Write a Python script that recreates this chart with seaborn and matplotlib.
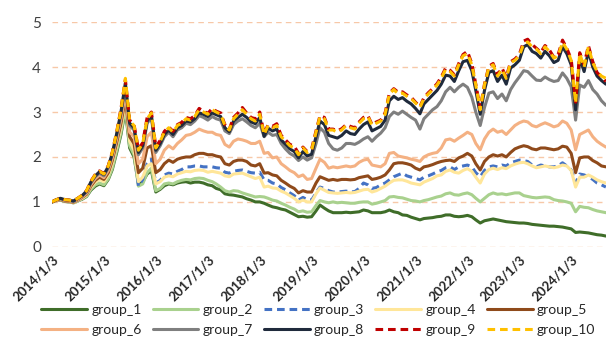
import numpy as np
import pandas as pd
import matplotlib
matplotlib.use('Agg')
import matplotlib.pyplot as plt
import seaborn as sns

# monthly readings, 2014/1 .. 2024/9
dates = pd.date_range('2014-01-01', '2024-09-01', freq='MS')

group_1 = [1.00, 1.03, 1.04, 1.01, 1.00, 0.98, 1.02, 1.06, 1.12, 1.26, 1.35, 1.40,
           1.36, 1.50, 1.72, 2.10, 2.50, 3.05, 2.20, 2.00, 1.40, 1.45, 1.62, 1.70,
           1.22, 1.28, 1.36, 1.40, 1.38, 1.42, 1.44, 1.45, 1.42, 1.44, 1.44, 1.42,
           1.38, 1.36, 1.30, 1.27, 1.18, 1.16, 1.15, 1.13, 1.11, 1.07, 1.04, 1.00,
           1.00, 0.97, 0.93, 0.89, 0.87, 0.84, 0.82, 0.77, 0.72, 0.67, 0.68, 0.66,
           0.67, 0.80, 0.93, 0.86, 0.80, 0.76, 0.76, 0.76, 0.77, 0.76, 0.77, 0.78,
           0.82, 0.80, 0.76, 0.76, 0.76, 0.78, 0.82, 0.78, 0.76, 0.71, 0.70, 0.66,
           0.63, 0.60, 0.63, 0.64, 0.65, 0.67, 0.68, 0.71, 0.71, 0.68, 0.67, 0.68,
           0.70, 0.67, 0.60, 0.53, 0.58, 0.60, 0.62, 0.60, 0.58, 0.56, 0.55, 0.54,
           0.53, 0.53, 0.52, 0.50, 0.49, 0.48, 0.47, 0.46, 0.46, 0.45, 0.44, 0.42,
           0.40, 0.32, 0.33, 0.32, 0.31, 0.29, 0.27, 0.26, 0.24]

group_2 = [1.00, 1.03, 1.04, 1.01, 1.00, 0.98, 1.02, 1.07, 1.13, 1.28, 1.38, 1.42,
           1.38, 1.52, 1.75, 2.15, 2.55, 3.10, 2.25, 2.05, 1.35, 1.40, 1.65, 1.75,
           1.25, 1.30, 1.40, 1.42, 1.40, 1.45, 1.48, 1.50, 1.49, 1.52, 1.53, 1.52,
           1.48, 1.45, 1.40, 1.33, 1.25, 1.22, 1.25, 1.24, 1.20, 1.17, 1.14, 1.11,
           1.12, 1.11, 1.08, 1.04, 1.02, 0.97, 0.93, 0.88, 0.84, 0.78, 0.80, 0.77,
           0.78, 0.92, 1.03, 1.00, 0.98, 1.00, 0.98, 0.99, 0.98, 0.97, 0.97, 0.99,
           1.00, 1.00, 0.95, 0.97, 1.00, 1.03, 1.11, 1.12, 1.10, 1.09, 1.06, 1.03,
           1.02, 1.00, 1.03, 1.05, 1.08, 1.11, 1.13, 1.18, 1.20, 1.16, 1.15, 1.18,
           1.20, 1.16, 1.08, 1.00, 1.08, 1.16, 1.20, 1.17, 1.18, 1.16, 1.18, 1.20,
           1.20, 1.14, 1.12, 1.10, 1.09, 1.10, 1.11, 1.10, 1.05, 1.03, 1.02, 1.00,
           0.97, 0.78, 0.90, 0.88, 0.87, 0.83, 0.80, 0.78, 0.76]

group_3 = [1.00, 1.03, 1.05, 1.02, 1.00, 0.99, 1.03, 1.09, 1.16, 1.33, 1.45, 1.52,
           1.47, 1.62, 1.88, 2.28, 2.70, 3.25, 2.40, 2.20, 1.35, 1.50, 1.85, 1.95,
           1.42, 1.48, 1.60, 1.64, 1.62, 1.68, 1.72, 1.78, 1.78, 1.80, 1.80, 1.78,
           1.78, 1.78, 1.76, 1.75, 1.66, 1.64, 1.68, 1.70, 1.71, 1.68, 1.65, 1.64,
           1.66, 1.49, 1.48, 1.42, 1.40, 1.32, 1.27, 1.20, 1.14, 1.04, 1.10, 1.05,
           1.04, 1.20, 1.33, 1.30, 1.25, 1.22, 1.22, 1.23, 1.24, 1.22, 1.23, 1.30,
           1.42, 1.38, 1.30, 1.32, 1.38, 1.42, 1.49, 1.56, 1.60, 1.64, 1.58, 1.55,
           1.52, 1.49, 1.55, 1.58, 1.62, 1.67, 1.70, 1.76, 1.78, 1.72, 1.78, 1.80,
           1.82, 1.78, 1.65, 1.56, 1.70, 1.78, 1.80, 1.78, 1.82, 1.80, 1.87, 1.90,
           1.93, 1.92, 1.90, 1.82, 1.78, 1.82, 1.80, 1.78, 1.78, 1.80, 1.87, 1.80,
           1.71, 1.42, 1.62, 1.60, 1.56, 1.50, 1.42, 1.38, 1.33]

group_4 = [1.00, 1.03, 1.05, 1.02, 1.00, 0.98, 1.03, 1.08, 1.15, 1.32, 1.44, 1.50,
           1.45, 1.60, 1.85, 2.25, 2.65, 3.20, 2.35, 2.15, 1.45, 1.55, 1.80, 1.85,
           1.40, 1.45, 1.55, 1.58, 1.56, 1.62, 1.65, 1.68, 1.67, 1.70, 1.71, 1.70,
           1.66, 1.68, 1.66, 1.64, 1.58, 1.56, 1.62, 1.63, 1.64, 1.60, 1.56, 1.52,
           1.55, 1.33, 1.35, 1.31, 1.30, 1.24, 1.20, 1.14, 1.08, 1.00, 1.04, 1.00,
           1.00, 1.18, 1.31, 1.26, 1.21, 1.20, 1.19, 1.20, 1.21, 1.20, 1.21, 1.24,
           1.27, 1.28, 1.22, 1.25, 1.30, 1.35, 1.42, 1.48, 1.49, 1.49, 1.46, 1.42,
           1.40, 1.38, 1.44, 1.48, 1.52, 1.58, 1.60, 1.68, 1.71, 1.66, 1.64, 1.70,
           1.74, 1.68, 1.55, 1.42, 1.62, 1.72, 1.75, 1.72, 1.76, 1.74, 1.80, 1.84,
           1.87, 1.88, 1.85, 1.80, 1.76, 1.78, 1.80, 1.78, 1.76, 1.78, 1.82, 1.80,
           1.70, 1.33, 1.55, 1.55, 1.60, 1.55, 1.49, 1.45, 1.42]

group_5 = [1.00, 1.04, 1.05, 1.02, 1.01, 0.99, 1.04, 1.10, 1.17, 1.35, 1.48, 1.55,
           1.50, 1.65, 1.92, 2.32, 2.75, 3.30, 2.45, 2.30, 1.65, 1.75, 2.20, 2.25,
           1.65, 1.72, 1.85, 1.93, 1.88, 1.95, 1.98, 2.00, 2.00, 2.05, 2.08, 2.08,
           2.05, 2.05, 2.02, 2.00, 1.85, 1.82, 1.90, 1.93, 1.93, 1.90, 1.82, 1.80,
           1.85, 1.64, 1.65, 1.60, 1.58, 1.48, 1.42, 1.35, 1.30, 1.20, 1.25, 1.22,
           1.22, 1.42, 1.56, 1.52, 1.48, 1.50, 1.48, 1.50, 1.50, 1.49, 1.50, 1.54,
           1.56, 1.58, 1.50, 1.52, 1.55, 1.60, 1.71, 1.85, 1.87, 1.87, 1.85, 1.82,
           1.75, 1.71, 1.78, 1.80, 1.83, 1.87, 1.90, 1.92, 1.93, 1.90, 1.98, 2.02,
           2.08, 2.02, 1.85, 1.71, 1.90, 2.00, 2.05, 2.02, 2.05, 2.00, 2.10, 2.18,
           2.22, 2.25, 2.23, 2.18, 2.16, 2.20, 2.20, 2.18, 2.16, 2.18, 2.24, 2.22,
           2.08, 1.65, 1.98, 2.00, 2.00, 1.92, 1.87, 1.80, 1.78]

group_6 = [1.00, 1.04, 1.06, 1.03, 1.02, 1.00, 1.05, 1.11, 1.19, 1.38, 1.52, 1.60,
           1.54, 1.70, 1.98, 2.40, 2.85, 3.40, 2.55, 2.45, 1.85, 1.95, 2.45, 2.55,
           1.85, 1.95, 2.15, 2.25, 2.18, 2.30, 2.38, 2.48, 2.50, 2.55, 2.62, 2.58,
           2.55, 2.55, 2.50, 2.48, 2.28, 2.22, 2.35, 2.40, 2.38, 2.35, 2.30, 2.30,
           2.35, 2.08, 2.10, 1.98, 2.00, 1.85, 1.78, 1.70, 1.65, 1.56, 1.60, 1.50,
           1.52, 1.75, 1.95, 1.88, 1.75, 1.78, 1.76, 1.78, 1.80, 1.78, 1.80, 1.88,
           1.93, 1.95, 1.82, 1.80, 1.78, 1.85, 2.08, 2.10, 2.02, 2.00, 1.98, 1.95,
           1.93, 1.90, 2.00, 2.05, 2.08, 2.10, 2.20, 2.38, 2.40, 2.35, 2.42, 2.48,
           2.55, 2.50, 2.30, 2.16, 2.40, 2.55, 2.62, 2.55, 2.58, 2.50, 2.60, 2.70,
           2.76, 2.80, 2.78, 2.70, 2.67, 2.72, 2.76, 2.72, 2.67, 2.70, 2.80, 2.75,
           2.60, 2.16, 2.50, 2.55, 2.60, 2.45, 2.35, 2.28, 2.22]

group_7 = [1.00, 1.05, 1.07, 1.04, 1.03, 1.01, 1.07, 1.13, 1.22, 1.42, 1.56, 1.64,
           1.58, 1.76, 2.05, 2.48, 2.95, 3.55, 2.70, 2.60, 2.05, 2.20, 2.75, 2.88,
           2.10, 2.25, 2.45, 2.55, 2.45, 2.60, 2.65, 2.75, 2.72, 2.80, 2.92, 2.88,
           2.82, 2.90, 2.85, 2.82, 2.58, 2.52, 2.72, 2.80, 2.85, 2.78, 2.70, 2.65,
           2.75, 2.45, 2.55, 2.48, 2.50, 2.30, 2.18, 2.08, 2.02, 1.92, 2.00, 1.93,
           1.98, 2.30, 2.65, 2.55, 2.30, 2.18, 2.15, 2.20, 2.30, 2.30, 2.28, 2.33,
           2.40, 2.45, 2.35, 2.45, 2.53, 2.65, 2.90, 3.00, 2.95, 3.02, 2.95, 2.88,
           2.82, 2.62, 2.85, 2.95, 3.05, 3.12, 3.25, 3.45, 3.55, 3.45, 3.55, 3.62,
           3.55, 3.33, 3.00, 2.70, 3.10, 3.42, 3.45, 3.30, 3.40, 3.25, 3.50, 3.65,
           3.78, 3.92, 3.90, 3.80, 3.71, 3.70, 3.78, 3.72, 3.68, 3.70, 3.87, 3.75,
           3.56, 2.82, 3.60, 3.55, 3.70, 3.50, 3.40, 3.25, 3.15]

group_8 = [1.00, 1.05, 1.08, 1.05, 1.04, 1.02, 1.08, 1.14, 1.24, 1.44, 1.58, 1.67,
           1.61, 1.79, 2.08, 2.52, 3.00, 3.65, 2.75, 2.65, 2.10, 2.25, 2.80, 2.93,
           2.15, 2.30, 2.50, 2.60, 2.50, 2.65, 2.70, 2.80, 2.78, 2.85, 2.98, 2.95,
           2.90, 2.98, 2.94, 2.90, 2.65, 2.56, 2.80, 2.88, 2.95, 2.88, 2.78, 2.74,
           2.88, 2.46, 2.64, 2.58, 2.62, 2.38, 2.28, 2.18, 2.12, 1.98, 2.12, 2.02,
           2.06, 2.45, 2.80, 2.72, 2.48, 2.45, 2.42, 2.48, 2.58, 2.52, 2.50, 2.62,
           2.72, 2.78, 2.58, 2.63, 2.68, 2.82, 3.25, 3.35, 3.28, 3.32, 3.24, 3.18,
           3.08, 2.96, 3.18, 3.28, 3.38, 3.48, 3.62, 3.82, 3.80, 3.68, 3.92, 4.12,
           4.15, 3.92, 3.48, 2.95, 3.48, 3.88, 3.92, 3.68, 3.82, 3.62, 3.98, 4.05,
           4.15, 4.45, 4.50, 4.35, 4.30, 4.20, 4.35, 4.25, 4.10, 4.15, 4.45, 4.30,
           4.05, 3.05, 4.20, 3.90, 4.35, 4.00, 3.80, 3.70, 3.62]

group_9 = [1.00, 1.05, 1.08, 1.05, 1.04, 1.02, 1.08, 1.15, 1.25, 1.46, 1.61, 1.69,
           1.63, 1.81, 2.11, 2.56, 3.08, 3.72, 2.82, 2.72, 2.17, 2.32, 2.88, 3.00,
           2.22, 2.37, 2.57, 2.67, 2.57, 2.72, 2.77, 2.88, 2.85, 2.92, 3.08, 3.02,
           2.97, 3.08, 3.02, 2.98, 2.72, 2.62, 2.88, 2.98, 3.10, 2.98, 2.88, 2.85,
           3.00, 2.52, 2.72, 2.68, 2.74, 2.48, 2.38, 2.28, 2.24, 2.08, 2.22, 2.12,
           2.18, 2.58, 2.92, 2.88, 2.62, 2.62, 2.58, 2.63, 2.72, 2.68, 2.65, 2.78,
           2.88, 2.92, 2.72, 2.78, 2.82, 2.98, 3.42, 3.52, 3.44, 3.45, 3.38, 3.33,
           3.22, 3.12, 3.32, 3.43, 3.52, 3.63, 3.78, 3.98, 3.93, 3.83, 4.08, 4.28,
           4.35, 4.08, 3.62, 3.08, 3.62, 4.02, 4.08, 3.83, 3.98, 3.78, 4.12, 4.18,
           4.28, 4.58, 4.62, 4.50, 4.42, 4.33, 4.48, 4.38, 4.22, 4.28, 4.60, 4.42,
           4.18, 3.22, 4.32, 4.05, 4.48, 4.12, 3.88, 3.78, 3.68]

group_10 = [1.00, 1.05, 1.08, 1.05, 1.04, 1.02, 1.08, 1.15, 1.25, 1.45, 1.60, 1.68,
            1.62, 1.80, 2.10, 2.55, 3.05, 3.75, 2.80, 2.70, 2.15, 2.30, 2.85, 2.98,
            2.20, 2.35, 2.55, 2.65, 2.55, 2.70, 2.75, 2.85, 2.82, 2.90, 3.05, 3.00,
            2.95, 3.05, 3.00, 2.95, 2.70, 2.60, 2.85, 2.95, 3.05, 2.95, 2.85, 2.80,
            2.95, 2.50, 2.70, 2.65, 2.70, 2.45, 2.35, 2.25, 2.20, 2.05, 2.20, 2.10,
            2.15, 2.55, 2.90, 2.85, 2.60, 2.60, 2.55, 2.60, 2.70, 2.65, 2.62, 2.75,
            2.85, 2.90, 2.70, 2.75, 2.80, 2.95, 3.40, 3.50, 3.40, 3.42, 3.35, 3.30,
            3.20, 3.10, 3.30, 3.40, 3.50, 3.60, 3.75, 3.95, 3.90, 3.80, 4.05, 4.25,
            4.30, 4.05, 3.60, 3.05, 3.60, 4.00, 4.05, 3.80, 3.95, 3.75, 4.10, 4.15,
            4.25, 4.52, 4.56, 4.45, 4.40, 4.30, 4.45, 4.35, 4.20, 4.25, 4.55, 4.40,
            4.15, 3.20, 4.30, 4.00, 4.45, 4.10, 3.90, 3.80, 3.75]

names = ['group_1', 'group_2', 'group_3', 'group_4', 'group_5',
         'group_6', 'group_7', 'group_8', 'group_9', 'group_10']
series = [group_1, group_2, group_3, group_4, group_5,
          group_6, group_7, group_8, group_9, group_10]
colors = ['#3F6D29', '#A9D18E', '#4472C4', '#FFE699', '#8F4A1B',
          '#F4B183', '#7F7F7F', '#1F2A3C', '#C00000', '#FFC000']
dashed = ['group_3', 'group_9', 'group_10']

sns.set_style('white')
plt.rcParams['font.family'] = ['Lato', 'DejaVu Sans']

fig, ax = plt.subplots(figsize=(6.12, 3.63), dpi=100)
fig.subplots_adjust(left=0.085, right=0.99, top=0.939, bottom=0.32)

handles = {}
for name, vals, col in zip(names, series, colors):
    ls = (0, (2.5, 1.6)) if name in dashed else '-'
    sns.lineplot(x=dates, y=vals, ax=ax, color=col, lw=2.2, linestyle=ls, label=name)
    handles[name] = ax.get_lines()[-1]

ax.get_legend().remove()

ax.set_ylim(0, 5)
ax.set_yticks([0, 1, 2, 3, 4, 5])
ax.set_xlim(dates[0], dates[-1])
ticks = pd.to_datetime([f'{y}-01-03' for y in range(2014, 2025)])
ax.set_xticks(ticks)
ax.set_xticklabels([f'{y}/1/3' for y in range(2014, 2025)], rotation=45,
                   ha='right', rotation_mode='anchor', fontsize=9.5,
                   color='#262626', fontweight='bold')
ax.tick_params(axis='y', labelsize=11, labelcolor='#404040', length=0, pad=8)
ax.tick_params(axis='x', length=3, color='#F8CBAD', pad=2)
ax.set_xlabel('')
ax.set_ylabel('')

for y in range(0, 6):
    ax.axhline(y, color='#F4B183', lw=1, alpha=0.7, linestyle=(0, (4, 3)), zorder=0)
sns.despine(ax=ax, left=True, bottom=True)

order = ['group_1', 'group_6', 'group_2', 'group_7', 'group_3',
         'group_8', 'group_4', 'group_9', 'group_5', 'group_10']
fig.legend([handles[n] for n in order], order, loc='center',
           bbox_to_anchor=(0.52, 0.118), ncol=5, frameon=False,
           handlelength=3.3, columnspacing=0.8, handletextpad=0.3,
           fontsize=10, labelspacing=0.6)

plt.savefig('out.png', dpi=100)
